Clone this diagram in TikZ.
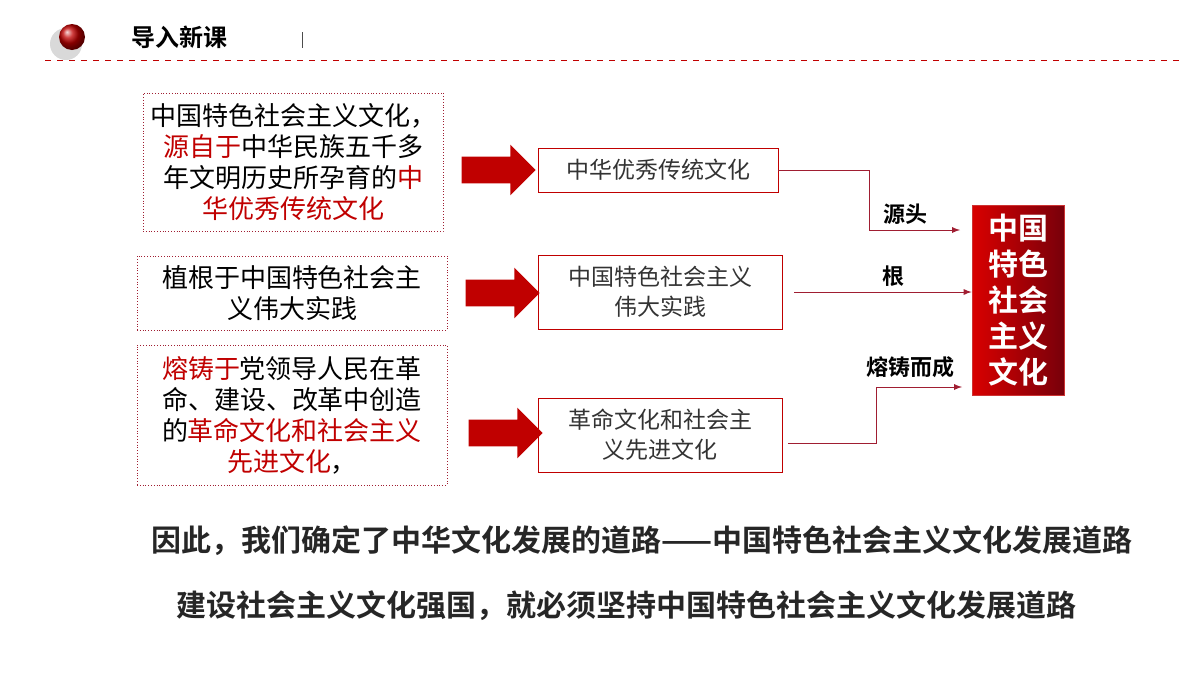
\documentclass[tikz,border=0pt]{standalone}
\usepackage{fontspec}
\setmainfont{Noto Sans CJK SC}
\newfontfamily\cjkb{Noto Sans CJK SC Bold}
\usetikzlibrary{shapes.arrows,positioning}
\definecolor{deepred}{RGB}{192,0,0}
\definecolor{darkred}{RGB}{120,0,10}
\definecolor{boxred}{RGB}{160,30,50}
\tikzset{
  src/.style={draw=boxred,densely dotted,thin,align=center,font=\fontsize{13}{15.5}\selectfont,inner sep=2pt},
  mid/.style={draw=deepred,thin,align=center,font=\fontsize{11.5}{15}\selectfont\color{black!80},inner sep=0pt},
  bigarrow/.style={single arrow,fill=deepred,draw=none,minimum height=37pt,minimum width=25pt,single arrow head extend=6pt,inner sep=6.5pt},
  link/.style={draw=boxred,thin,-latex},
  lab/.style={font=\cjkb\fontsize{11}{13}\selectfont}
}
\newcommand{\hl}[1]{\textcolor{deepred}{#1}}
\begin{document}
\begin{tikzpicture}[x=0.5pt,y=-0.5pt]
\useasboundingbox (0,0) rectangle (1200,675);
% header
\fill[black!15] (66,44) circle (16);
\shade[ball color=deepred] (72,37) circle (13);
\node[font=\cjkb\fontsize{12}{14}\selectfont,anchor=west] (title) at (124,37) {导入新课};
\draw[black!70] (302,32) -- (302,48);
\draw[deepred,dashed] (45,60) -- (1180,60);

% left text boxes
\node[src,minimum width=150pt,minimum height=69pt] (s1) at (293,162) {中国特色社会主义文化，\\\hl{源自于}中华民族五千多\\年文明历史所孕育的\hl{中}\\\hl{华优秀传统文化}};
\node[src,minimum width=155pt,minimum height=37pt] (s2) at (292,293) {植根于中国特色社会主\\义伟大实践};
\node[src,minimum width=155pt,minimum height=70pt] (s3) at (292,415) {\hl{熔铸于}党领导人民在革\\命、建设、改革中创造\\的\hl{革命文化和社会主义}\\\hl{先进文化}，};

% arrows
\node[bigarrow] (a1) at (492,170) {};
\node[bigarrow] (a2) at (496,293) {};
\node[bigarrow] (a3) at (499,433) {};

% middle boxes
\node[mid,minimum width=120pt,minimum height=22pt] (m1) at (658,170) {中华优秀传统文化};
\node[mid,minimum width=122pt,minimum height=37pt] (m2) at (660,292) {中国特色社会主义\\伟大实践};
\node[mid,minimum width=122pt,minimum height=37pt] (m3) at (660,435) {革命文化和社会主\\义先进文化};

% target
\node[draw=deepred!80,thin,left color=red!85!black,right color=darkred,minimum width=46pt,minimum height=95pt,align=center,text=white,font=\cjkb\fontsize{15}{18}\selectfont] (t) at (1018,300) {中国\\特色\\社会\\主义\\文化};

\coordinate (e1) at (960,230);
\coordinate (e3) at (962,387);
\draw[link] (m1.east) -- (869,170) |- (e1);
\draw[link] (m2.east) ++(6pt,0) -- (t.west |- m2.east);
\draw[link] (m3.east) ++(3pt,-4pt) -- (876,443) |- (e3);
\node[lab] (l1) at (905,214) {源头};
\node[lab] (l2) at (893,276) {根};
\node[lab] (l3) at (910,367) {熔铸而成};

% conclusions
\node[font=\cjkb\fontsize{15}{18}\selectfont,text=black!85] (c1) at (642,541) {因此，我们确定了中华文化发展的道路——中国特色社会主义文化发展道路};
\node[font=\cjkb\fontsize{15}{18}\selectfont,text=black!85] (c2) at (626,606) {建设社会主义文化强国，就必须坚持中国特色社会主义文化发展道路};
\end{tikzpicture}
\end{document}
